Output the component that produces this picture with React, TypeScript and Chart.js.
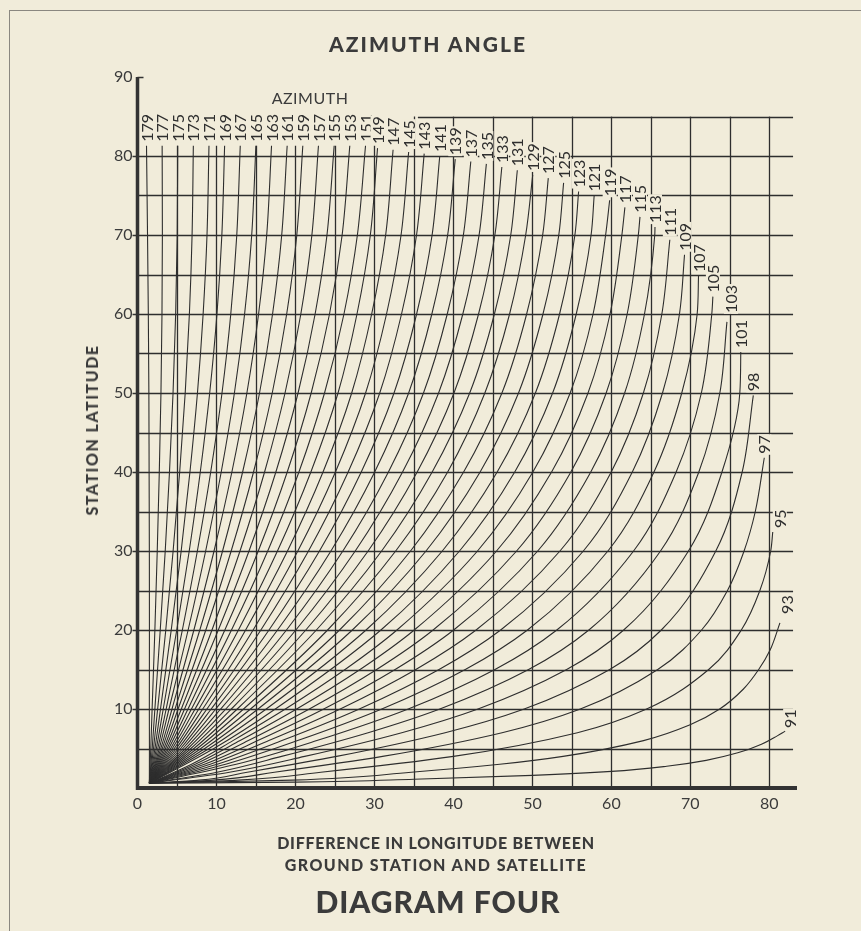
import React, { useEffect, useRef } from 'react';
import { Chart, registerables } from 'chart.js';

Chart.register(...registerables);

const PAPER = '#f1ecda';
const INK = '#2e2e2e';
const TEXT = '#3b3b3b';
const FONT = 'Lato, "Open Sans", "DejaVu Sans", sans-serif';

// Azimuth written at the upper end of each curve, from the y axis outwards.
const AZIMUTHS = [
  '179', '177', '175', '173', '171', '169', '167', '165', '163', '161',
  '159', '157', '155', '153', '151', '149', '147', '145', '143', '141',
  '139', '137', '135', '133', '131', '129', '127', '125', '123', '121',
  '119', '117', '115', '113', '111', '109', '107', '105', '103', '101',
  '98', '97', '95', '93', '91',
];

// Steep curves (179 … 121): longitude at these station latitudes, then at the curve's own top.
const STEEP_LATS = [0.6, 5, 10, 20, 30, 40, 50, 60, 70];
const STEEP_TOPS = [
  81.3, 81.3, 81.3, 81.3, 81.3, 81.3, 81.3, 81.3, 81.3, 81.3, 81.3, 81.3, 81.3, 81.3, 81.3,
  81.0, 80.8, 80.5, 80.3, 80.0, 79.6, 79.3, 79.0, 78.6, 78.2, 77.6, 77.2, 76.6, 75.5, 75.0,
];
const STEEP_LONS = [
  [1.5, 1.51, 1.5, 1.51, 1.5, 1.47, 1.44, 1.37, 1.27, 1.14],
  [1.5, 1.68, 1.85, 2.2, 2.5, 2.76, 2.97, 3.1, 3.15, 3.12],
  [1.5, 1.86, 2.2, 2.88, 3.51, 4.05, 4.5, 4.83, 5.03, 5.09],
  [1.5, 2.03, 2.55, 3.58, 4.51, 5.34, 6.04, 6.57, 6.91, 7.07],
  [1.5, 2.21, 2.91, 4.27, 5.53, 6.64, 7.59, 8.31, 8.8, 9.05],
  [1.5, 2.39, 3.26, 4.97, 6.55, 7.95, 9.14, 10.06, 10.68, 11.03],
  [1.5, 2.57, 3.63, 5.68, 7.58, 9.27, 10.7, 11.81, 12.57, 13.01],
  [1.5, 2.76, 3.99, 6.41, 8.63, 10.6, 12.27, 13.56, 14.46, 14.99],
  [1.5, 2.95, 4.37, 7.14, 9.69, 11.95, 13.85, 15.33, 16.36, 16.97],
  [1.5, 3.14, 4.75, 7.89, 10.77, 13.31, 15.45, 17.1, 18.26, 18.95],
  [1.5, 3.34, 5.14, 8.65, 11.86, 14.69, 17.06, 18.89, 20.17, 20.93],
  [1.5, 3.54, 5.55, 9.43, 12.98, 16.09, 18.68, 20.68, 22.08, 22.91],
  [1.5, 3.75, 5.96, 10.23, 14.12, 17.52, 20.33, 22.49, 23.99, 24.9],
  [1.5, 3.96, 6.39, 11.06, 15.29, 18.96, 21.99, 24.31, 25.91, 26.88],
  [1.5, 4.19, 6.83, 11.9, 16.49, 20.44, 23.68, 26.14, 27.84, 28.87],
  [1.5, 4.42, 7.29, 12.78, 17.72, 21.95, 25.39, 27.79, 29.48, 30.39],
  [1.5, 4.66, 7.76, 13.69, 18.99, 23.49, 27.12, 29.65, 31.42, 32.36],
  [1.5, 4.91, 8.26, 14.64, 20.3, 25.06, 28.88, 31.53, 33.37, 34.33],
  [1.5, 5.18, 8.79, 15.62, 21.65, 26.67, 30.67, 33.43, 35.33, 36.3],
  [1.5, 5.46, 9.33, 16.65, 23.04, 28.33, 32.48, 35.34, 37.3, 38.27],
  [1.5, 5.75, 9.91, 17.73, 24.49, 30.03, 34.33, 37.27, 39.27, 40.23],
  [1.5, 6.07, 10.53, 18.86, 26.0, 31.77, 36.21, 39.22, 41.26, 42.2],
  [1.5, 6.4, 11.18, 20.05, 27.57, 33.56, 38.12, 41.19, 43.25, 44.17],
  [1.5, 6.76, 11.88, 21.31, 29.2, 35.41, 40.07, 43.18, 45.25, 46.13],
  [1.5, 7.15, 12.63, 22.65, 30.91, 37.31, 42.06, 45.19, 47.26, 48.09],
  [1.5, 7.56, 13.43, 24.07, 32.69, 39.27, 43.98, 47.11, 49.15, 50.04],
  [1.5, 8.02, 14.31, 25.58, 34.57, 41.29, 46.14, 49.27, 51.3, 52.01],
  [1.5, 8.52, 15.26, 27.2, 36.53, 43.38, 48.24, 51.34, 53.34, 53.95],
  [1.5, 9.06, 16.3, 28.94, 38.59, 45.54, 50.38, 53.44, 55.38, 55.85],
  [1.5, 9.67, 17.45, 30.82, 40.77, 47.76, 52.56, 55.55, 57.43, 57.82],
];

// Curves 119 … 91 bend over towards the right edge: latitude / longitude pairs.
const BENT_LATS = [
  [0.6, 3, 6, 10, 15, 20, 30, 40, 50, 60, 70, 74.4],
  [0.6, 3, 6, 10, 15, 20, 30, 40, 50, 60, 70, 73.5],
  [0.6, 3, 6, 10, 15, 20, 30, 40, 50, 60, 70, 72.3],
  [0.6, 3, 6, 10, 15, 20, 30, 40, 50, 60, 70, 71.0],
  [0.6, 3, 6, 10, 15, 20, 30, 40, 50, 60, 69.4],
  [0.6, 3, 6, 10, 15, 20, 30, 40, 50, 60, 67.5],
  [0.6, 3, 6, 10, 15, 20, 30, 40, 50, 60, 64.8],
  [0.6, 3, 6, 10, 15, 20, 30, 40, 50, 60, 62.2],
  [0.6, 2, 4, 7, 10, 15, 20, 30, 40, 50, 59.0],
  [0.6, 2, 4, 7, 10, 15, 20, 30, 40, 50, 55.2],
  [0.6, 1, 2, 4, 7, 10, 15, 20, 30, 40, 49.7],
  [0.6, 1, 2, 4, 7, 10, 15, 20, 25, 30, 35, 41.8],
  [0.6, 1, 2, 4, 7, 10, 15, 20, 25, 30, 32.4],
  [0.6, 1, 2, 3, 4, 6, 8, 10, 12.5, 15, 17.5, 20.9],
  [0.6, 0.75, 1.1, 1.6, 2.1, 2.75, 3.5, 4.45, 5.55, 6.6, 7.2],
];
const BENT_LONS = [
  [1.5, 6.84, 12.08, 18.72, 26.28, 32.85, 43.05, 50.06, 54.78, 57.68, 59.27, 59.78],
  [1.5, 7.31, 12.99, 20.15, 28.18, 35.04, 45.46, 52.43, 57.04, 59.83, 61.33, 61.71],
  [1.5, 7.85, 14.03, 21.76, 30.28, 37.43, 48.0, 54.87, 59.34, 62.0, 63.41, 63.62],
  [1.5, 8.48, 15.23, 23.58, 32.62, 40.03, 50.67, 57.39, 61.68, 64.19, 65.49, 65.52],
  [1.5, 9.21, 16.63, 25.67, 35.24, 42.87, 53.49, 59.98, 64.05, 66.39, 67.4],
  [1.5, 10.09, 18.29, 28.09, 38.18, 45.98, 56.45, 62.65, 66.47, 68.62, 69.26],
  [1.5, 11.16, 20.28, 30.93, 41.5, 49.38, 59.56, 65.39, 68.91, 70.86, 71.03],
  [1.5, 12.5, 22.71, 34.28, 45.26, 53.09, 62.81, 68.2, 71.39, 72.71, 72.85],
  [1.5, 10.06, 18.24, 29.2, 38.28, 49.52, 57.15, 66.22, 71.07, 73.73, 74.63],
  [1.5, 11.64, 21.17, 33.46, 43.11, 54.34, 61.56, 69.76, 74.0, 76.26, 76.38],
  [1.5, 7.77, 13.89, 25.2, 38.95, 48.96, 59.79, 66.32, 73.22, 76.56, 77.97],
  [1.5, 9.57, 17.33, 31.03, 46.16, 56.07, 65.87, 71.42, 74.7, 76.8, 78.22, 79.36],
  [1.5, 12.76, 23.21, 40.0, 55.7, 64.46, 72.32, 76.45, 78.8, 80.17, 80.43],
  [1.5, 19.62, 34.66, 45.86, 53.88, 64.07, 69.97, 73.71, 76.69, 78.65, 80.11, 81.34],
  [1.5, 20, 35, 50, 60, 67, 72, 76, 79, 81, 82],
];

const X_TICKS = [0, 10, 20, 30, 40, 50, 60, 70, 80];
const Y_TICKS = [10, 20, 30, 40, 50, 60, 70, 80, 90];
const GRID_STEPS = [5, 10, 15, 20, 25, 30, 35, 40, 45, 50, 55, 60, 65, 70, 75, 80];

// Pixel nudges for the azimuth figures that sit beside, rather than above, their curve ends.
const LABEL_NUDGE: Record<string, [number, number]> = {
  '103': [4, -5],
  '95': [7, 0],
  '93': [7, -5],
  '91': [5, 1],
};

const curveLats = [...STEEP_TOPS.map((top) => [...STEEP_LATS, top]), ...BENT_LATS];
const curveLons = [...STEEP_LONS, ...BENT_LONS];

const gridAndLabels = {
  id: 'gridAndLabels',
  beforeDatasetsDraw(chart: any) {
    const { ctx } = chart;
    const { x, y } = chart.scales;
    ctx.save();
    ctx.strokeStyle = INK;
    ctx.lineWidth = 1.3;
    ctx.beginPath();
    for (const v of GRID_STEPS) {
      const py = Math.round(y.getPixelForValue(v)) + 0.5;
      ctx.moveTo(x.getPixelForValue(0), py);
      ctx.lineTo(x.getPixelForValue(83), py);
      const px = Math.round(x.getPixelForValue(v)) + 0.5;
      ctx.moveTo(px, y.getPixelForValue(0));
      ctx.lineTo(px, y.getPixelForValue(v >= 35 ? 85 : 81.3));
    }
    const p85 = Math.round(y.getPixelForValue(85)) + 0.5;
    ctx.moveTo(x.getPixelForValue(35.5), p85);
    ctx.lineTo(x.getPixelForValue(83), p85);
    ctx.stroke();
    ctx.restore();
  },
  afterDatasetsDraw(chart: any) {
    const { ctx } = chart;
    const { x, y } = chart.scales;
    ctx.save();
    ctx.font = `400 16px ${FONT}`;
    chart.data.datasets.forEach((ds: any, i: number) => {
      const meta = chart.getDatasetMeta(i);
      const end = meta.data[meta.data.length - 1];
      const [nx, ny] = LABEL_NUDGE[ds.label] || [0, 0];
      const ax = end.x + nx;
      const ay = end.y - 4 + ny;
      const w = ctx.measureText(ds.label).width;
      ctx.fillStyle = PAPER;
      ctx.fillRect(ax - 7, ay - w - 1, 14, w + 2);
      ctx.save();
      ctx.translate(ax, ay);
      ctx.rotate(-Math.PI / 2);
      ctx.fillStyle = INK;
      ctx.textAlign = 'left';
      ctx.textBaseline = 'middle';
      ctx.fillText(ds.label, 0, 1);
      ctx.restore();
    });

    // axes
    const x0 = x.getPixelForValue(0);
    const y0 = y.getPixelForValue(0);
    ctx.strokeStyle = '#333';
    ctx.lineWidth = 3.5;
    ctx.beginPath();
    ctx.moveTo(x0, y0 + 2);
    ctx.lineTo(x0, y.getPixelForValue(90));
    ctx.stroke();
    ctx.lineWidth = 4;
    ctx.beginPath();
    ctx.moveTo(x0 - 1.5, y0);
    ctx.lineTo(x.getPixelForValue(83.5), y0);
    ctx.stroke();
    ctx.lineWidth = 1.5;
    ctx.beginPath();
    for (const v of Y_TICKS) {
      const py = Math.round(y.getPixelForValue(v)) + 0.5;
      if (v === 90) {
        ctx.moveTo(x0, py);
        ctx.lineTo(x0 + 6, py);
      } else {
        ctx.moveTo(x0 - 5, py);
        ctx.lineTo(x0, py);
      }
    }
    ctx.stroke();
    ctx.restore();
  },
};

const textBase: React.CSSProperties = {
  position: 'absolute',
  transform: 'translate(-50%, -50%)',
  whiteSpace: 'nowrap',
  color: TEXT,
  fontFamily: FONT,
  lineHeight: 1,
};

export default function App() {
  const canvasRef = useRef<HTMLCanvasElement>(null);

  useEffect(() => {
    if (!canvasRef.current) return;
    const datasets = AZIMUTHS.map((label, i) => ({
      label,
      data: curveLons[i].map((lon, k) => ({ x: lon, y: curveLats[i][k] })),
      borderColor: INK,
      borderWidth: 1.1,
      pointRadius: 0,
      cubicInterpolationMode: 'monotone' as const,
      fill: false,
    }));
    const tickFont = { family: FONT, size: 16, weight: '400' };
    const chart = new Chart(canvasRef.current, {
      type: 'line',
      data: { datasets },
      plugins: [gridAndLabels],
      options: {
        responsive: false,
        animation: false,
        devicePixelRatio: 1,
        indexAxis: 'y',
        events: [],
        layout: { padding: { left: 97.5, right: 64, top: 77, bottom: 113 } },
        plugins: { legend: { display: false }, tooltip: { enabled: false }, title: { display: false } },
        scales: {
          x: {
            type: 'linear',
            min: 0,
            max: 83.5,
            grid: { display: false, drawTicks: false },
            border: { display: false },
            afterBuildTicks: (s: any) => {
              s.ticks = X_TICKS.map((value) => ({ value }));
            },
            afterFit: (s: any) => {
              s.height = 30;
            },
            ticks: { font: tickFont, color: TEXT, padding: 6, maxRotation: 0, autoSkip: false },
          },
          y: {
            type: 'linear',
            min: 0,
            max: 90,
            grid: { display: false, drawTicks: false },
            border: { display: false },
            afterBuildTicks: (s: any) => {
              s.ticks = Y_TICKS.map((value) => ({ value }));
            },
            afterFit: (s: any) => {
              s.width = 40;
            },
            ticks: { font: tickFont, color: TEXT, padding: 5, autoSkip: false },
          },
        },
      } as any,
    });
    return () => chart.destroy();
  }, []);

  return (
    <div style={{ position: 'fixed', left: 0, top: 0, width: 861, height: 931, background: PAPER, overflow: 'hidden' }}>
      <div style={{ position: 'absolute', left: 9, top: 10, right: -2, bottom: -2, borderTop: '1.5px solid #8a8780', borderLeft: '1.5px solid #8a8780' }} />
      <canvas ref={canvasRef} width={861} height={931} style={{ position: 'absolute', left: 0, top: 0, width: 861, height: 931 }} />
      <div style={{ ...textBase, left: 428, top: 43, fontSize: 21, fontWeight: 900, letterSpacing: 2 }}>AZIMUTH ANGLE</div>
      <div style={{ ...textBase, left: 310, top: 98, fontSize: 16, fontWeight: 400, letterSpacing: 0.5 }}>AZIMUTH</div>
      <div style={{ ...textBase, left: 92, top: 430, fontSize: 16, fontWeight: 900, letterSpacing: 1.5, transform: 'translate(-50%, -50%) rotate(-90deg)' }}>
        STATION LATITUDE
      </div>
      <div style={{ ...textBase, left: 436, top: 843, fontSize: 16, fontWeight: 900, letterSpacing: 0.75 }}>DIFFERENCE IN LONGITUDE BETWEEN</div>
      <div style={{ ...textBase, left: 436, top: 865, fontSize: 16, fontWeight: 900, letterSpacing: 1.4 }}>GROUND STATION AND SATELLITE</div>
      <div style={{ ...textBase, left: 438, top: 901, fontSize: 30, fontWeight: 900, letterSpacing: 1 }}>DIAGRAM FOUR</div>
    </div>
  );
}
